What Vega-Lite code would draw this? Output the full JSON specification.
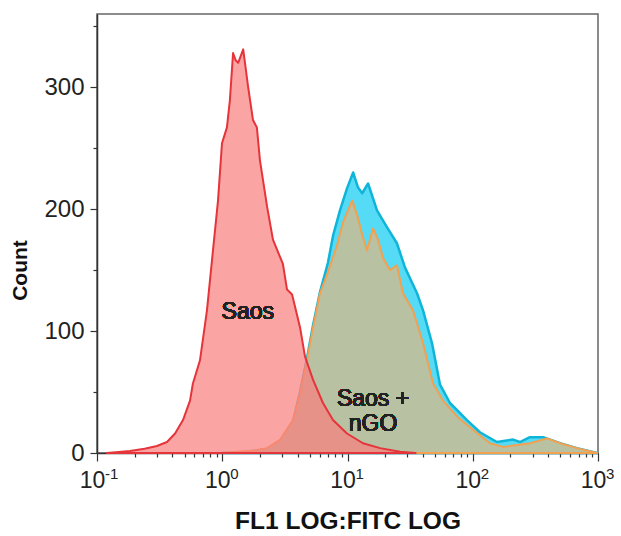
{
  "$schema": "https://vega.github.io/schema/vega-lite/v6.json",
  "width": 501,
  "height": 439,
  "autosize": "none",
  "padding": {"left": 97, "top": 14, "right": 23, "bottom": 83},
  "background": "white",
  "config": {
    "view": {"stroke": "#666666", "strokeWidth": 1.5},
    "font": "Liberation Sans"
  },
  "datasets": {
    "curves": [
      {"series": "Saos", "x": 0.12, "y": 0}, {"series": "Saos", "x": 0.134, "y": 0.5}, {"series": "Saos", "x": 0.183, "y": 1.6}, {"series": "Saos", "x": 0.24, "y": 3.5}, {"series": "Saos", "x": 0.301, "y": 5.7}, {"series": "Saos", "x": 0.362, "y": 9}, {"series": "Saos", "x": 0.42, "y": 16}, {"series": "Saos", "x": 0.486, "y": 27}, {"series": "Saos", "x": 0.553, "y": 43}, {"series": "Saos", "x": 0.583, "y": 57}, {"series": "Saos", "x": 0.664, "y": 76}, {"series": "Saos", "x": 0.755, "y": 117}, {"series": "Saos", "x": 0.828, "y": 158}, {"series": "Saos", "x": 0.925, "y": 207}, {"series": "Saos", "x": 0.995, "y": 254}, {"series": "Saos", "x": 1.09, "y": 267}, {"series": "Saos", "x": 1.15, "y": 289}, {"series": "Saos", "x": 1.22, "y": 328}, {"series": "Saos", "x": 1.28, "y": 322}, {"series": "Saos", "x": 1.34, "y": 320}, {"series": "Saos", "x": 1.47, "y": 331}, {"series": "Saos", "x": 1.61, "y": 300}, {"series": "Saos", "x": 1.76, "y": 273}, {"series": "Saos", "x": 1.89, "y": 267}, {"series": "Saos", "x": 2.0, "y": 240}, {"series": "Saos", "x": 2.28, "y": 202}, {"series": "Saos", "x": 2.54, "y": 175}, {"series": "Saos", "x": 3.05, "y": 155}, {"series": "Saos", "x": 3.29, "y": 134}, {"series": "Saos", "x": 3.61, "y": 130}, {"series": "Saos", "x": 4.18, "y": 103}, {"series": "Saos", "x": 4.58, "y": 79}, {"series": "Saos", "x": 5.31, "y": 60}, {"series": "Saos", "x": 6.37, "y": 41}, {"series": "Saos", "x": 7.66, "y": 27}, {"series": "Saos", "x": 9.91, "y": 16}, {"series": "Saos", "x": 13.3, "y": 8}, {"series": "Saos", "x": 18.2, "y": 4}, {"series": "Saos", "x": 26.3, "y": 1}, {"series": "Saos", "x": 35, "y": 0},
      {"series": "Cyan", "x": 1.0, "y": 0}, {"series": "Cyan", "x": 1.5, "y": 0.5}, {"series": "Cyan", "x": 2.28, "y": 3.3}, {"series": "Cyan", "x": 2.89, "y": 9.8}, {"series": "Cyan", "x": 3.67, "y": 26}, {"series": "Cyan", "x": 4.18, "y": 50}, {"series": "Cyan", "x": 4.75, "y": 78}, {"series": "Cyan", "x": 5.31, "y": 105}, {"series": "Cyan", "x": 6.03, "y": 132}, {"series": "Cyan", "x": 6.98, "y": 156}, {"series": "Cyan", "x": 7.66, "y": 178}, {"series": "Cyan", "x": 8.71, "y": 199}, {"series": "Cyan", "x": 9.91, "y": 217}, {"series": "Cyan", "x": 11.1, "y": 230}, {"series": "Cyan", "x": 12.1, "y": 218}, {"series": "Cyan", "x": 13.1, "y": 213}, {"series": "Cyan", "x": 14.6, "y": 221}, {"series": "Cyan", "x": 17.2, "y": 199}, {"series": "Cyan", "x": 20.7, "y": 185}, {"series": "Cyan", "x": 24.8, "y": 172}, {"series": "Cyan", "x": 28.8, "y": 152}, {"series": "Cyan", "x": 35.9, "y": 131}, {"series": "Cyan", "x": 40.1, "y": 117}, {"series": "Cyan", "x": 47.3, "y": 90}, {"series": "Cyan", "x": 54.8, "y": 56}, {"series": "Cyan", "x": 65.8, "y": 41}, {"series": "Cyan", "x": 89.9, "y": 27}, {"series": "Cyan", "x": 114, "y": 17}, {"series": "Cyan", "x": 156, "y": 9}, {"series": "Cyan", "x": 210, "y": 11}, {"series": "Cyan", "x": 238, "y": 9}, {"series": "Cyan", "x": 286, "y": 13}, {"series": "Cyan", "x": 364, "y": 13}, {"series": "Cyan", "x": 399, "y": 11.5}, {"series": "Cyan", "x": 498, "y": 8}, {"series": "Cyan", "x": 679, "y": 4}, {"series": "Cyan", "x": 982, "y": 0},
      {"series": "Orange", "x": 1.0, "y": 0}, {"series": "Orange", "x": 1.22, "y": 0.8}, {"series": "Orange", "x": 1.8, "y": 2}, {"series": "Orange", "x": 2.28, "y": 4}, {"series": "Orange", "x": 2.89, "y": 10.7}, {"series": "Orange", "x": 3.67, "y": 27}, {"series": "Orange", "x": 4.18, "y": 49}, {"series": "Orange", "x": 4.75, "y": 76}, {"series": "Orange", "x": 5.31, "y": 103}, {"series": "Orange", "x": 6.03, "y": 131}, {"series": "Orange", "x": 6.86, "y": 146}, {"series": "Orange", "x": 8.24, "y": 170}, {"series": "Orange", "x": 9.21, "y": 189}, {"series": "Orange", "x": 9.91, "y": 197}, {"series": "Orange", "x": 10.9, "y": 207}, {"series": "Orange", "x": 12.1, "y": 193}, {"series": "Orange", "x": 13.1, "y": 179}, {"series": "Orange", "x": 14.3, "y": 166}, {"series": "Orange", "x": 16.0, "y": 184}, {"series": "Orange", "x": 17.5, "y": 175}, {"series": "Orange", "x": 19.2, "y": 160}, {"series": "Orange", "x": 21.8, "y": 150}, {"series": "Orange", "x": 24.8, "y": 154}, {"series": "Orange", "x": 27.7, "y": 131}, {"series": "Orange", "x": 33.3, "y": 117}, {"series": "Orange", "x": 40.1, "y": 90}, {"series": "Orange", "x": 48.2, "y": 57}, {"series": "Orange", "x": 57.8, "y": 43}, {"series": "Orange", "x": 74.8, "y": 30}, {"series": "Orange", "x": 100.5, "y": 19}, {"series": "Orange", "x": 137, "y": 8}, {"series": "Orange", "x": 175, "y": 5}, {"series": "Orange", "x": 225, "y": 6.5}, {"series": "Orange", "x": 286, "y": 8}, {"series": "Orange", "x": 392, "y": 12}, {"series": "Orange", "x": 498, "y": 8}, {"series": "Orange", "x": 679, "y": 4}, {"series": "Orange", "x": 982, "y": 0}
    ],
    "exponents": [
      {"tick": 0.1, "exp": "-1", "level": -17}, {"tick": 1, "exp": "0", "level": -17}, {"tick": 10, "exp": "1", "level": -17}, {"tick": 100, "exp": "2", "level": -17}, {"tick": 1000, "exp": "3", "level": -17}
    ]
  },
  "layer": [
    {
      "data": {"name": "curves"},
      "transform": [{"filter": "datum.series == 'Cyan'"}],
      "mark": {"type": "area", "fill": "#55dbf5", "stroke": "#0fb5d8", "strokeWidth": 2.5, "strokeJoin": "round"},
      "encoding": {
        "x": {
          "field": "x", "type": "quantitative",
          "scale": {"type": "log", "domain": [0.1, 1000], "nice": false},
          "axis": {
            "title": "FL1 LOG:FITC LOG",
            "grid": false,
            "values": [0.1,0.2,0.3,0.4,0.5,0.6,0.7,0.8,0.9,1,2,3,4,5,6,7,8,9,10,20,30,40,50,60,70,80,90,100,200,300,400,500,600,700,800,900,1000],
            "labelExpr": "(datum.value==0.1||datum.value==1||datum.value==10||datum.value==100||datum.value==1000)?'10':''",
            "labelOverlap": false,
            "labelFlush": false,
            "labelBound": false,
            "labelFontSize": 23,
            "labelColor": "#222222",
            "labelPadding": 8,
            "labelOffset": -5,
            "tickSize": {"condition": {"test": "datum.value==0.1||datum.value==1||datum.value==10||datum.value==100||datum.value==1000", "value": 8}, "value": 4},
            "tickColor": "#333333",
            "tickWidth": 1.2,
            "domainColor": "#333333",
            "domainWidth": 1.5,
            "titleFontSize": 24.5,
            "titleFontWeight": "bold",
            "titleColor": "#111111",
            "titleBaseline": "middle",
            "titleY": 68
          }
        },
        "y": {
          "field": "y", "type": "quantitative",
          "scale": {"domain": [0, 360], "nice": false, "zero": false},
          "axis": {
            "title": "Count",
            "grid": false,
            "values": [0,25,50,75,100,125,150,175,200,225,250,275,300,325,350],
            "labelExpr": "datum.value % 100 == 0 ? datum.label : ''",
            "labelOverlap": false,
            "labelFlush": false,
            "labelBound": false,
            "labelFontSize": 24,
            "labelColor": "#222222",
            "labelPadding": 6,
            "tickSize": {"condition": {"test": "datum.value % 100 == 0", "value": 7}, "value": 4},
            "tickColor": "#333333",
            "tickWidth": 1.2,
            "domainColor": "#333333",
            "domainWidth": 1.5,
            "titleFontSize": 21,
            "titleFontWeight": "bold",
            "titleColor": "#111111",
            "titleAngle": -90,
            "titleBaseline": "middle",
            "titleAlign": "center",
            "titleX": -77,
            "titleY": 256
          }
        }
      }
    },
    {
      "data": {"name": "curves"},
      "transform": [{"filter": "datum.series == 'Orange'"}],
      "mark": {"type": "area", "fill": "#b8c2a2", "stroke": "#f3a04f", "strokeWidth": 2, "strokeJoin": "round"},
      "encoding": {"x": {"field": "x", "type": "quantitative"}, "y": {"field": "y", "type": "quantitative"}}
    },
    {
      "data": {"name": "curves"},
      "transform": [{"filter": "datum.series == 'Saos'"}],
      "mark": {"type": "area", "fill": "#fa7d7d", "fillOpacity": 0.7, "stroke": "#e5343a", "strokeWidth": 2, "strokeJoin": "round"},
      "encoding": {"x": {"field": "x", "type": "quantitative"}, "y": {"field": "y", "type": "quantitative"}}
    },
    {
      "data": {"name": "exponents"},
      "mark": {"type": "text", "fontSize": 15, "fill": "#222222", "align": "left", "baseline": "middle", "dx": 8},
      "encoding": {
        "x": {"field": "tick", "type": "quantitative"},
        "y": {"field": "level", "type": "quantitative"},
        "text": {"field": "exp", "type": "nominal"}
      }
    },
    {
      "data": {"name": "curves"},
      "mark": {"type": "text", "text": "Saos", "fontSize": 23, "fontWeight": "normal", "fill": "#222222", "align": "center", "baseline": "middle"},
      "encoding": {"x": {"datum": 1.6}, "y": {"datum": 116}}
    },
    {
      "data": {"name": "curves"},
      "mark": {"type": "text", "text": ["Saos +", "nGO"], "fontSize": 23, "fontWeight": "normal", "lineHeight": 25, "fill": "#222222", "align": "center", "baseline": "middle"},
      "encoding": {"x": {"datum": 16.0}, "y": {"datum": 44}}
    }
  ]
}
